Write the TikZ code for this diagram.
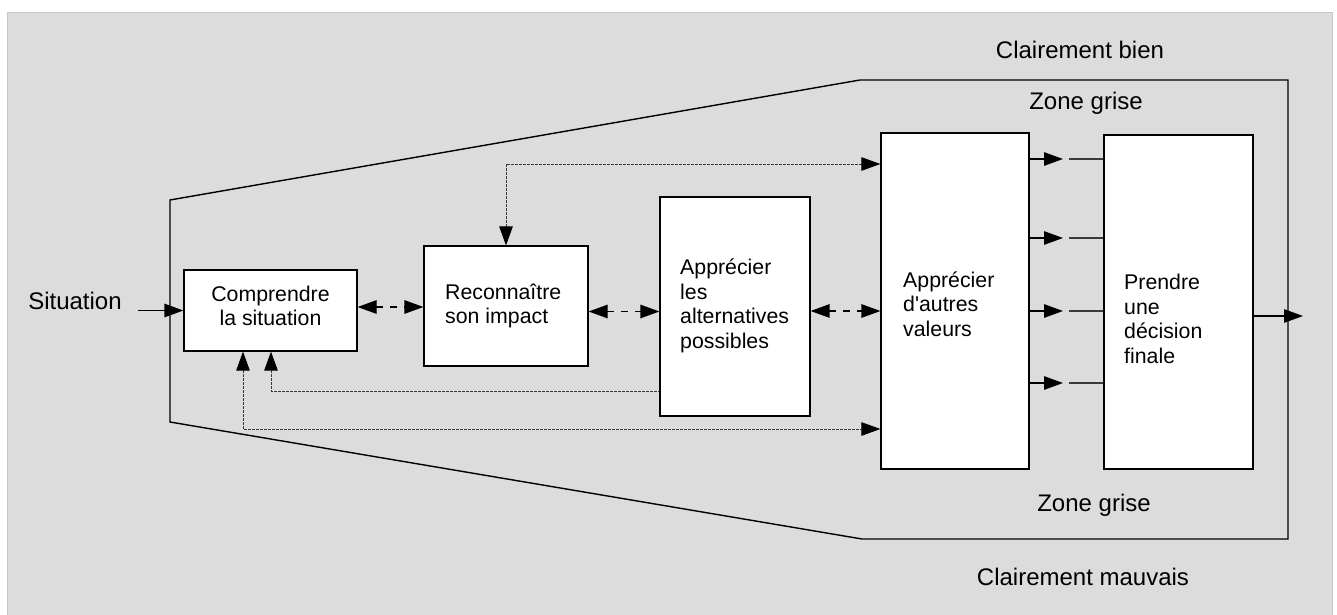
\documentclass[tikz,border=0pt]{standalone}
\usepackage{fontspec}
\setmainfont{Liberation Sans}[Ligatures=TeXOff]
\usetikzlibrary{arrows.meta}
\definecolor{bgfill}{HTML}{DCDCDC}
\definecolor{bgline}{HTML}{C6C6C6}
\definecolor{dotc}{HTML}{3A3A3A}
\definecolor{segc}{HTML}{3A3A3A}
\begin{document}
\begin{tikzpicture}[x=1pt,y=-1pt,
  box/.style={draw=black,fill=white,line width=1.2pt,inner sep=0pt},
  boxtext/.style={font=\fontsize{21.3}{24.5}\selectfont,align=left,inner sep=0pt,anchor=west},
  lbl/.style={font=\fontsize{24}{28}\selectfont,inner sep=0pt,anchor=base},
  tipshape/.tip={Triangle[length=19pt,width=13.5pt,color=black]},
  solidarrow/.style={line width=1.2pt,-tipshape},
  seg/.style={line width=1.2pt,draw=segc},
  dd/.style={line width=1.2pt,dash pattern=on 7pt off 7pt,tipshape-tipshape},
  dotboth/.style={line width=0.9pt,draw=dotc,dash pattern=on 2.5pt off 1.5pt,tipshape-tipshape},
  dotstart/.style={line width=0.9pt,draw=dotc,dash pattern=on 2.5pt off 1.5pt,tipshape-},
  outline/.style={line width=1.4pt,line join=miter}
]
\useasboundingbox (0,0) rectangle (1337,615);
% background
\path[fill=bgfill,draw=bgline,line width=1pt] (7,13) rectangle (1332,625);

% outer zone shape
\draw[outline] (170,200) -- (860,80) -- (1288,80) -- (1288,539) -- (862,539) -- (170,422) -- cycle;

% labels
\node[lbl] (lbien) at (1080,59) {Clairement bien};
\node[lbl] (lzg1) at (1086,110) {Zone grise};
\node[lbl] (lzg2) at (1094,511) {Zone grise};
\node[lbl] (lmauv) at (1083,585) {Clairement mauvais};
\node[lbl] (lsit) at (75,309) {Situation};

% boxes
\node[box,minimum width=173pt,minimum height=81pt] (b1) at (270.5,310.5) {};
\node[box,minimum width=164pt,minimum height=120pt] (b2) at (506,306) {};
\node[box,minimum width=150pt,minimum height=219pt] (b3) at (735,306.5) {};
\node[box,minimum width=148pt,minimum height=336pt] (b4) at (955,301) {};
\node[box,minimum width=149pt,minimum height=334pt] (b5) at (1178.5,302) {};

\node[font=\fontsize{21.3}{24.5}\selectfont,align=center,inner sep=0pt] (t1) at (270.5,306) {Comprendre\\la situation};
\node[boxtext] (t2) at (445,306) {Reconnaître\\son impact};
\node[boxtext] (t3) at (680,306) {Apprécier\\les\\alternatives\\possibles};
\node[boxtext] (t4) at (903,304) {Apprécier\\d'autres\\valeurs};
\node[boxtext] (t5) at (1124,319) {Prendre\\une\\décision\\finale};

% situation input
\coordinate (s0) at (138,310.5);
\draw[solidarrow] (s0) -- (s0 -| b1.west);

% dashed double arrows
\draw[dd] ([yshift=3.5pt]b1.east) -- ([yshift=3.5pt]b1.east -| b2.west);
\draw[dd] ([yshift=-5.5pt]b2.east) -- ([yshift=-5.5pt]b2.east -| b3.west);
\draw[dd] ([yshift=-4.5pt]b3.east) -- ([yshift=-4.5pt]b3.east -| b4.west);

% arrows between b4 and b5
\foreach \i/\y in {1/159,2/238,3/311,4/383} {
  \coordinate (m\i) at (1063,\y);
  \coordinate (n\i) at (1069,\y);
  \draw[solidarrow] (m\i -| b4.east) -- (m\i);
  \draw[seg] (n\i) -- (n\i -| b5.west);
}

% output
\coordinate (out) at (1303,316);
\draw[solidarrow] (out -| b5.east) -- (out);

% dotted feedback paths
\coordinate (k1) at (506,164);
\draw[dotboth] (b2.north) -- (b2.north |- k1) -- (k1 -| b4.west);
\coordinate (k2) at (271,391);
\draw[dotstart] (b1.south -| k2) -- (k2) -- (k2 -| b3.west);
\coordinate (k3) at (243,429);
\draw[dotboth] (b1.south -| k3) -- (k3) -- (k3 -| b4.west);
\end{tikzpicture}
\end{document}
